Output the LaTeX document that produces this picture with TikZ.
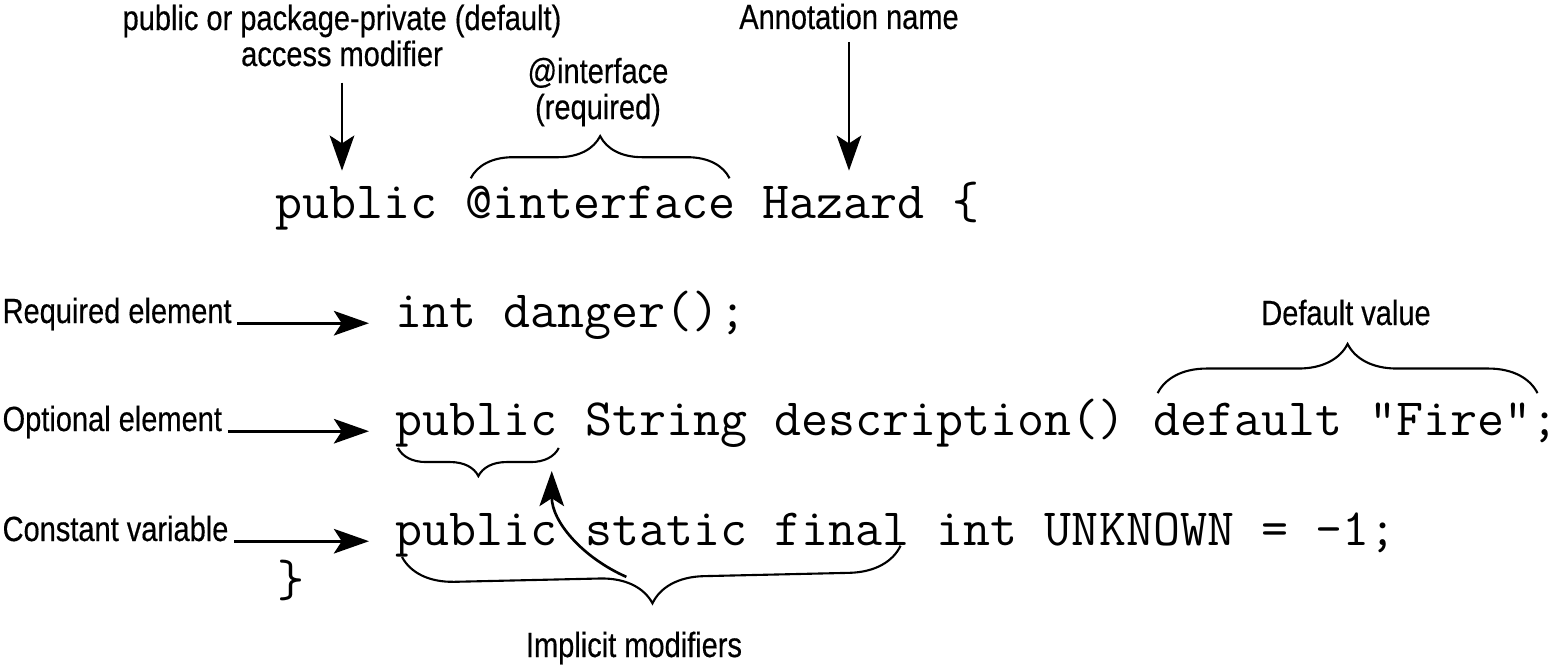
\documentclass[tikz,border=0pt]{standalone}
\usepackage{fontspec}
\usepackage{tikz}
\usetikzlibrary{arrows.meta,decorations.pathreplacing,calc,positioning}
\newfontfamily\etiqfam[FakeStretch=0.83,FakeBold=0.4]{Liberation Sans}
\newcommand{\codfont}{\fontsize{29.85}{35}\selectfont\ttfamily}
\newcommand{\etqfont}{\etiqfam\fontsize{19.9}{20.5}\selectfont}
\newlength{\anchocar}
\settowidth{\anchocar}{\codfont x}
\edef\cw{\the\anchocar}
\tikzset{
  cod/.style={font=\codfont,inner sep=0pt,anchor=base west},
  etq/.style={font=\etqfont,inner sep=3pt},
  flecha/.style={-{Stealth[length=20pt,width=14pt,inset=4.5pt]},line width=1.5pt},
  llave/.style={decorate,decoration={brace,amplitude=#1},line width=1.2pt}
}

\begin{document}
\begin{tikzpicture}[x=0.02cm,y=-0.02cm]
\useasboundingbox (0,0) rectangle (1556,666);
% lineas de codigo
\node[cod] (pub1) at (275,218) {public};
\node[cod,base right=\cw of pub1] (iface) {@interface};
\node[cod,base right=\cw of iface] (hazard) {Hazard};
\node[cod,base right=\cw of hazard] (abre) {\{};
\node[cod] (int2) at (395,327) {int danger();};
\node[cod] (pub3) at (395,435) {public};
\node[cod,base right=\cw of pub3] (desc) {String description()};
\node[cod,base right=\cw of desc] (dflt) {default "Fire"};
\node[cod,base right=0pt of dflt] (pc3) {;};
\node[cod] (pub4) at (395,545) {public};
\node[cod,base right=\cw of pub4] (sf) {static final};
\node[cod,base right=\cw of sf] (resto) {int UNKNOWN = -1;};
\node[cod] (cierra) at (277,596) {\}};
% etiquetas
\node[etq,align=center,anchor=south] (acceso) at (342,72) {public or package-private (default)\\access modifier};
\node[etq,anchor=base] (nombre) at (849,29) {Annotation name};
\node[etq,align=center,anchor=south] (ifaceEt) at (598,132) {@interface\\(required)};
\node[etq,anchor=base west] (reqEt) at (-3,323) {Required element};
\node[etq,anchor=base west] (optEt) at (-3,431) {Optional element};
\node[etq,anchor=base west] (constEt) at (-3,541) {Constant variable};
\node[etq,anchor=base] (defEt) at (1346,325) {Default value};
\node[etq,anchor=base] (implEt) at (634,657) {Implicit modifiers};
\draw[flecha,shorten <=6pt,shorten >=8.5pt] (acceso.south) -- (acceso.south |- pub1.north);
\draw[flecha,shorten <=4pt,shorten >=8.5pt] (nombre.south) -- (nombre.south |- hazard.north);
\draw[flecha,shorten >=14.8pt] (reqEt.east |- int2.mid west) -- (int2.mid west);
\draw[flecha,shorten >=14.8pt] (optEt.east |- pub3.mid west) -- (pub3.mid west);
\draw[flecha,shorten >=14.8pt] (constEt.east |- pub4.mid west) -- (pub4.mid west);
% llaves
\draw[llave=24pt] ($(iface.north west)+(6,-7)$) -- ($(iface.north east)+(-6,-7)$);
\draw[llave=28pt] ($(dflt.north west)+(5,-9)$) -- ($(dflt.north east)+(6,-9)$);
\draw[llave=16pt] ($(pub3.south east)+(1,1)$) -- ($(pub3.south west)+(3,1)$);
\coordinate (impI) at ($(pub4.south west)+(7,0)$);
\coordinate (impD) at ($(sf.south east)+(-9,0)$);
\draw[llave=29.6pt] (impD) -- (impI);
\draw[flecha] ($(impI)!.45!(impD)+(0,25)$) .. controls +(-45,-20) and +(0,50) .. ($(pub3.south east)+(-6,24)$);
\end{tikzpicture}
\end{document}
